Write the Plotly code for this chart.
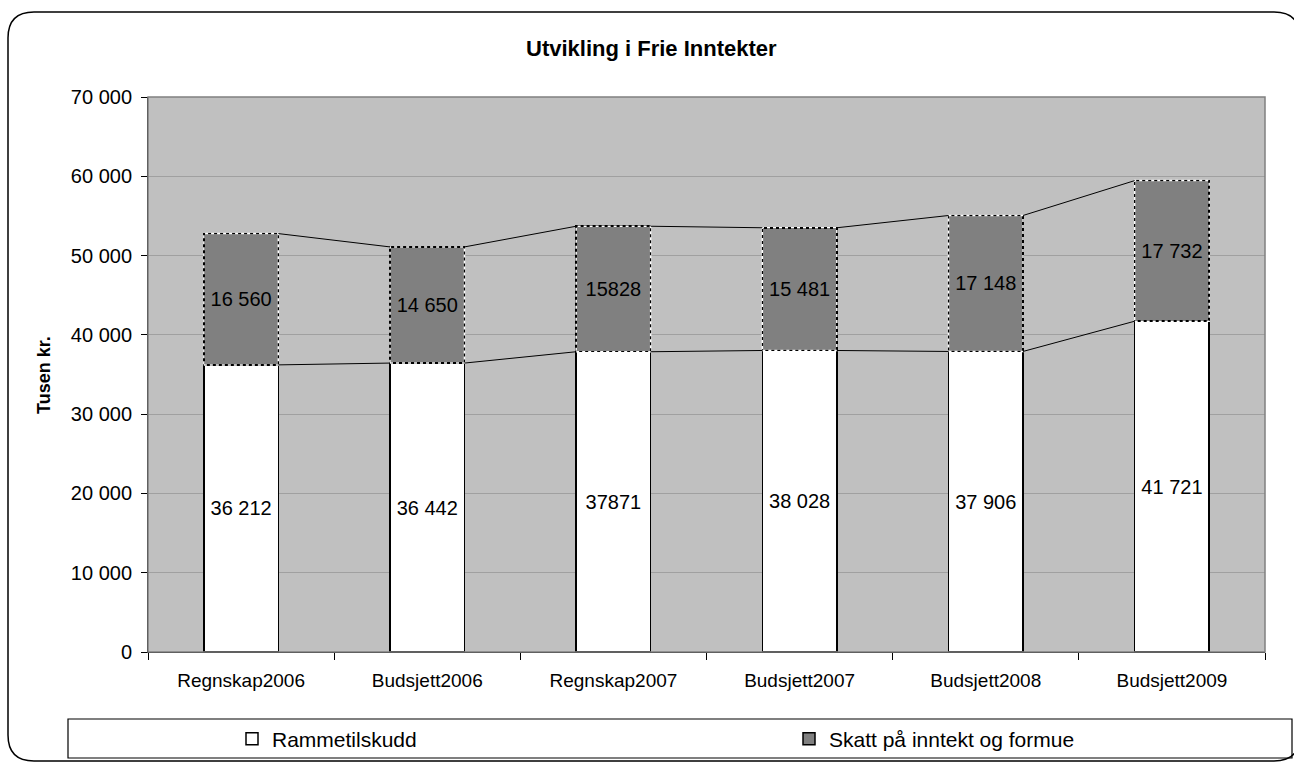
import plotly.graph_objects as go

W, H = 1294, 763

categories = ["Regnskap2006", "Budsjett2006", "Regnskap2007", "Budsjett2007", "Budsjett2008", "Budsjett2009"]
rammetilskudd = [36212, 36442, 37871, 38028, 37906, 41721]
skatt = [16560, 14650, 15828, 15481, 17148, 17732]
ramme_labels = ["36 212", "36 442", "37871", "38 028", "37 906", "41 721"]
skatt_labels = ["16 560", "14 650", "15828", "15 481", "17 148", "17 732"]

FONT = "Liberation Sans, Arial, sans-serif"
BAR_W = 0.4


def px(x):
    return x / W


def py(y):
    return 1 - y / H


totals = [a + b for a, b in zip(rammetilskudd, skatt)]
n = len(categories)

fig = go.Figure()
fig.add_trace(go.Bar(
    x=categories, y=rammetilskudd, name="Rammetilskudd", width=BAR_W, legend="legend",
    marker=dict(color="white", line=dict(color="black", width=1.5)),
    text=ramme_labels, textposition="inside", insidetextanchor="middle", textangle=0,
    constraintext="none", textfont=dict(size=20, color="black", family=FONT),
))
fig.add_trace(go.Bar(
    x=categories, y=skatt, name="Skatt på inntekt og formue", width=BAR_W, legend="legend2",
    marker=dict(color="#808080", line=dict(color="black", width=1.5)),
    text=skatt_labels, textposition="inside", insidetextanchor="middle", textangle=0,
    constraintext="none", textfont=dict(size=20, color="black", family=FONT),
))

# dashed outline on the tax segments
ox, oy = [], []
for i in range(n):
    b, t = rammetilskudd[i], totals[i]
    ox += [i - BAR_W / 2, i + BAR_W / 2, i + BAR_W / 2, i - BAR_W / 2, i - BAR_W / 2, None]
    oy += [b, b, t, t, b, None]
fig.add_trace(go.Scatter(x=ox, y=oy, xaxis="x2", mode="lines", showlegend=False, hoverinfo="skip",
                         line=dict(color="white", width=1.5, dash="3px,3px")))

# series lines between the stacks
sx, sy = [], []
for series in (rammetilskudd, totals):
    for i in range(n - 1):
        sx += [i + BAR_W / 2, i + 1 - BAR_W / 2, None]
        sy += [series[i], series[i + 1], None]
fig.add_trace(go.Scatter(x=sx, y=sy, xaxis="x2", mode="lines", showlegend=False, hoverinfo="skip",
                         line=dict(color="black", width=1)))

x_dom = [px(148), px(1265)]
y_dom = [py(652), py(97)]


def rounded_rect(x0, y0, x1, y1, r):
    # pixel coords -> paper path with rounded corners
    p = [
        f"M {px(x0 + r)} {py(y0)}",
        f"L {px(x1 - r)} {py(y0)}",
        f"Q {px(x1)} {py(y0)} {px(x1)} {py(y0 + r)}",
        f"L {px(x1)} {py(y1 - r)}",
        f"Q {px(x1)} {py(y1)} {px(x1 - r)} {py(y1)}",
        f"L {px(x0 + r)} {py(y1)}",
        f"Q {px(x0)} {py(y1)} {px(x0)} {py(y1 - r)}",
        f"L {px(x0)} {py(y0 + r)}",
        f"Q {px(x0)} {py(y0)} {px(x0 + r)} {py(y0)}",
        "Z",
    ]
    return " ".join(p)


leg_common = dict(orientation="h", xanchor="left", yanchor="middle", y=py(739),
                  bgcolor="rgba(0,0,0,0)", font=dict(size=21))

fig.update_layout(
    width=W, height=H, margin=dict(l=0, r=0, t=0, b=0),
    paper_bgcolor="white", plot_bgcolor="#C0C0C0",
    barmode="stack", separators=", ",
    font=dict(family=FONT, size=18, color="black"),
    xaxis=dict(domain=x_dom, type="category", tickson="boundaries", ticks="outside", ticklen=7,
               tickcolor="black", showline=True, linecolor="black", linewidth=1, showgrid=False,
               tickfont=dict(size=19), ticklabelstandoff=11, automargin=False),
    xaxis2=dict(domain=x_dom, overlaying="x", range=[-0.5, n - 0.5], visible=False),
    yaxis=dict(domain=y_dom, range=[0, 70000], dtick=10000, tickformat=",d", ticks="outside",
               ticklen=6, tickcolor="black", showline=True, linecolor="black", linewidth=1,
               gridcolor="#A0A0A0", gridwidth=1, zeroline=False, tickfont=dict(size=20),
               ticklabelstandoff=5, automargin=False),
    showlegend=True,
    legend=dict(x=px(232), **leg_common),
    legend2=dict(x=px(789), **leg_common),
    shapes=[
        dict(type="rect", xref="paper", yref="paper", x0=x_dom[0], x1=x_dom[1], y0=y_dom[0], y1=y_dom[1],
             line=dict(color="#808080", width=1.5), layer="above"),
        dict(type="rect", xref="paper", yref="paper", x0=px(68), x1=px(1292), y0=py(758), y1=py(719),
             line=dict(color="black", width=1.2)),
        dict(type="path", xref="paper", yref="paper", path=rounded_rect(8, 12, 1300, 761, 26),
             line=dict(color="black", width=1.5)),
    ],
    annotations=[
        dict(text="<b>Utvikling i Frie Inntekter</b>", xref="paper", yref="paper", x=px(651), y=py(48),
             showarrow=False, font=dict(size=22), xanchor="center", yanchor="middle"),
        dict(text="<b>Tusen kr.</b>", xref="paper", yref="paper", x=px(44), y=py(375), textangle=-90,
             showarrow=False, font=dict(size=18), xanchor="center", yanchor="middle"),
    ],
)

fig.write_html("out.html", config={"displayModeBar": False},
               post_script="document.body.style.margin = '0';")
